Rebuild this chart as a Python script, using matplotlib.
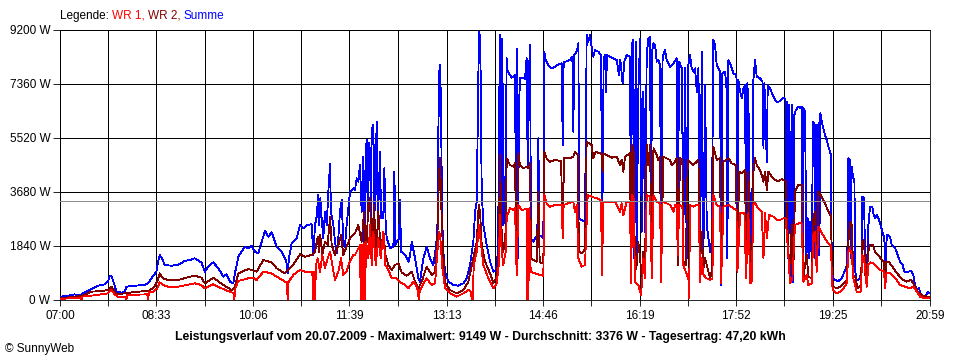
import matplotlib
matplotlib.use("Agg")
import matplotlib.pyplot as plt

plt.rcParams['font.family'] = ['Liberation Sans', 'DejaVu Sans']

# ---------------- data ----------------
tick_labels = ['07:00', '08:33', '10:06', '11:39', '13:13', '14:46', '16:19', '17:52', '19:25', '20:59']
y_ticks = [0, 1840, 3680, 5520, 7360, 9200]
average_w = 3376
legend_parts = [('Legende: ', '#000000'), ('WR 1, ', '#ff0000'), ('WR 2, ', '#800000'), ('Summe', '#0000ff')]
title = "Leistungsverlauf vom 20.07.2009 - Maximalwert: 9149 W - Durchschnitt: 3376 W - Tagesertrag: 47,20 kWh"
copyright_text = "\u00a9 SunnyWeb"

# Summe (minutes after 07:00, W)
sum_t = [1.3, 7.7, 14.1, 19, 22.2, 30.2, 36.6, 43.1, 46.3, 47.9, 49.5, 52.1, 54.3, 59.2, 62.4, 64, 72, 81.7, 84.9, 88.1,
         92.9, 94.5, 96.1, 98.4, 101, 107.4, 113.8, 120.2, 125.1, 129.9, 136.3, 139.8, 143, 147.8, 152.7, 157.5, 160.7,
         163.9, 167.1, 168.7, 172, 175.2, 178.4, 181.6, 184.8, 188, 191.2, 194.5, 197.7, 200.9, 204.1, 209, 213.8, 217,
         218.6, 219.5, 220.8, 223.4, 228.2, 231.4, 234.6, 237.9, 242.7, 244.3, 245.9, 247.5, 249.1, 250.1, 251, 252.3,
         253.9, 255.5, 257.2, 258.8, 260.4, 261.3, 263.6, 265.2, 266.8, 268.4, 270, 271.6, 273.2, 274.8, 276.4, 278,
         279.7, 282.9, 284.5, 286.1, 287.7, 289.3, 290.9, 292.6, 293.5, 294.8, 295.8, 296.7, 298, 299, 299.9, 300.6,
         301.5, 302.2, 303.2, 304.5, 305.4, 306.4, 307.7, 308.6, 309.6, 310.9, 311.9, 312.8, 314.1, 315.1, 318.3, 321.5,
         322.5, 323.4, 324.7, 327, 327.9, 328.9, 332.8, 336, 337.6, 339.2, 342.4, 345.6, 347.2, 350.4, 353.6, 356.9,
         360.1, 362.6, 363.9, 364.9, 365.9, 366.5, 367.5, 368.4, 369.7, 371.3, 374.5, 379.4, 384.2, 389, 392.2, 395.4,
         398.6, 400.3, 401.9, 402.8, 403.5, 404.4, 405.4, 406, 406.7, 408.3, 411.5, 414.7, 417.9, 420.5, 421.8, 422.7,
         423.7, 424.3, 425.3, 425.9, 426.6, 427.5, 429.1, 430.1, 430.8, 431.7, 434, 435.6, 438.8, 439.8, 440.7, 441.7,
         442.6, 443.6, 446.8, 448.4, 450, 451, 452, 453.3, 454.2, 456.5, 458.1, 460.3, 461.3, 462.3, 466.1, 467.1,
         468.4, 470.9, 474.2, 477.4, 480.6, 483.8, 484.8, 485.7, 491.8, 494.1, 495, 496, 498.3, 499.9, 500.8, 503.1,
         505.7, 507, 507.9, 509.5, 511.1, 512.7, 514.3, 516, 519.2, 521.7, 523, 524.3, 525.6, 526.6, 527.5, 530.4,
         533.6, 536.8, 539.1, 540.4, 542.6, 544.2, 546.5, 549.7, 550.7, 551.6, 552.9, 553.9, 555.2, 556.1, 557.7,
         559.4, 561, 562.6, 564.2, 565.8, 567.4, 569, 570, 571, 572.3, 573.9, 575.5, 577.1, 578.7, 579.7, 581, 581.9,
         583.5, 585.1, 588.3, 591.6, 594.8, 595.7, 597, 599.6, 601.2, 602.8, 604.4, 606, 607.6, 609.2, 610.8, 612.4,
         614.1, 615.7, 617.3, 618.9, 620.5, 622.1, 623.7, 625.3, 626.9, 628.5, 630.1, 631.7, 633.3, 636.6, 637.5,
         638.8, 641.4, 643, 643.6, 644.6, 646.2, 649.4, 652.3, 653.3, 654.2, 655.9, 657.5, 659.1, 660.7, 661.6, 662.9,
         664.5, 665.5, 667.1, 668.7, 670.3, 671.9, 675.1, 677.4, 678.4, 679.3, 681.6, 682.5, 684.8, 688, 691.2, 694.4,
         697.6, 699.6, 700.2, 700.8, 701.8, 702.7, 703.7, 704.7, 705.6, 706.9, 708.2, 709.5, 710.8, 712.1, 713.7,
         715.3, 716.2, 717.2, 718.5, 719.8, 721.1, 722.3, 723.6, 724.9, 726.2, 727.5, 728.5, 729.4, 730.4, 731.4,
         732.3, 733.3, 734.6, 736.2, 737.8, 739.4, 741, 742.6, 743.6, 744.2, 745.2, 747.4, 750.6, 753.9, 757.1, 759,
         759.6, 760.3, 761.6, 762.5, 763.5, 764.8, 766.1, 767, 768.3, 771.5, 773.1, 773.8, 775.4, 776.4, 778, 779.6,
         781.2, 783.4, 784.7, 786, 787.6, 789.9, 791.8, 793.7, 795, 795.7, 796.6, 797.9, 800.5, 802.1, 805.3, 807.9,
         810.1, 812.4, 814.3, 817.5, 820.7, 823, 824.6, 826.8, 828.4, 830.1, 832.6, 834.9, 836.8, 838.7]
sum_w = [114, 148, 193, 148, 227, 370, 488, 534, 625, 795, 829, 568, 284, 250, 284, 454, 488, 511, 568, 738,
         965, 1283, 1533, 1420, 1192, 1170, 1192, 1329, 1363, 1420, 1283, 965, 1136, 1283, 1079, 795, 875,
         625, 568, 908, 1476, 1647, 1817, 1760, 1850, 1647, 1590, 1987, 2351, 2158, 2305, 1817, 1647, 1420,
         1249, 908, 1420, 1931, 2101, 2555, 2442, 2555, 2580, 1533, 2555, 2839, 3577, 2555, 3464, 2782,
         2101, 3010, 2555, 3691, 4622, 3010, 2555, 1987, 1590, 2101, 3010, 3407, 1987, 1817, 2555, 3123,
         3691, 3804, 3748, 4145, 4032, 4599, 3010, 4884, 1987, 5054, 5451, 3010, 5338, 5054, 2555, 5849,
         5508, 5962, 2782, 4827, 6076, 2555, 3918, 5054, 2782, 3010, 2782, 4486, 2555, 2101, 1760, 1817,
         4372, 1874, 1987, 2101, 3407, 1647, 1533, 1306, 1533, 1987, 1420, 738, 625, 1420, 1817, 1420,
         1192, 1817, 2328, 5849, 7836, 8006, 6530, 2896, 1647, 965, 625, 511, 488, 568, 738, 1192,
         1987, 3010, 3350, 5962, 7779, 9149, 8744, 5962, 3691, 2555, 1874, 1306, 965, 1022, 1420, 2782,
         7098, 9029, 7098, 3010, 8915, 2555, 2782, 5962, 8234, 7779, 7666, 7575, 7666, 2669, 8574, 1420,
         6530, 7552, 7575, 7530, 8234, 4599, 7552, 8688, 2101, 1987, 2101, 2214, 5508, 2214, 2101, 8461,
         8177, 8006, 7893, 7950, 8030, 8063, 5281, 8097, 8177, 8290, 5735, 8347, 8461, 8744, 2782, 2726,
         2669, 4827, 9029, 8801, 9029, 8631, 8290, 8518, 8461, 8347, 2555, 8234, 8347, 7098, 8347, 8290,
         8234, 8177, 7666, 8177, 7382, 8120, 8347, 8290, 1420, 8744, 8858, 1420, 8801, 1420, 7098,
         8915, 2328, 7098, 2328, 8347, 8915, 8972, 2328, 8461, 8744, 8688, 8120, 8177, 8006, 1533, 8120, 8347,
         8518, 8177, 7950, 8063, 8234, 1420, 8120, 7893, 2328, 7893, 1420, 8006, 8347, 7893, 7779, 7893,
         7098, 7893, 1533, 8461, 1533, 7325, 2555, 2101, 1647, 1987, 8858, 8688, 8006, 7779, 511,
         7722, 7779, 7098, 1420, 8177, 8063, 7722, 7666, 1533, 7495, 7098, 6870, 7211, 7325, 1192, 7382,
         5962, 1533, 1306, 7495, 8177, 7609, 7552, 7438, 5167, 7382, 4713, 7325, 7211, 6927, 6734, 6780,
         6893, 6850, 2555, 6757, 1420, 6643, 5622, 738, 6643, 625, 6303, 6473, 6530, 6586, 6530,
         6586, 1420, 6530, 6416, 1420, 2782, 1420, 2669, 1420, 6076, 5962, 1420, 5962, 1647, 6019,
         1533, 6360, 6076, 5849, 5622, 5451, 5224, 5054, 4940, 1306, 738, 681, 647, 738, 1022, 1192,
         2214, 4827, 4770, 1420, 4543, 4202, 4032, 965, 681, 715, 1192, 3521, 3464, 1420, 852, 2555,
         3180, 3180, 2896, 2782, 2896, 2726, 2498, 2237, 2101, 511, 1874, 2214, 2158, 1874, 1783, 1533,
         1306, 1215, 965, 965, 987, 852, 511, 341, 397, 170, 114, 148, 284, 227]

# WR 2
wr2_t = [1.3, 14.1, 23.8, 30.2, 39.9, 46.3, 49.5, 52.7, 55.3, 62.4, 75.2, 84.9, 89.7, 93.9, 96.1, 99.3, 104.2, 113.8,
         121.8, 129.9, 136.3, 139.8, 147.8, 157.5, 165.5, 168.7, 172, 181.6, 189.6, 196.1, 204.1, 209, 217, 221.8,
         226.6, 231.4, 236.3, 242.7, 245.9, 248.5, 249.8, 251, 253, 255.5, 258.1, 260.4, 262, 265.2, 268.4, 271,
         273.2, 276.4, 279.7, 282.9, 284.5, 287.7, 290.9, 293.2, 295.1, 297.4, 299, 300.6, 302.8, 304.8, 307, 309.3,
         311.9, 313.8, 316.7, 319.9, 323.1, 326.3, 329.5, 334.4, 339.2, 342.4, 345.6, 348.8, 353.6, 358.5, 361.7,
         363.9, 365.5, 366.5, 367.8, 369.1, 371.3, 376.1, 382.6, 389, 393.8, 398.6, 401.9, 403.8, 405.1, 406.7,
         409.9, 414.7, 417.9, 421.1, 423.1, 424.3, 425.9, 427.5, 429.8, 430.8, 434, 437.2, 438.8, 440.1, 442,
         443.6, 446.8, 450, 451.7, 453.3, 454.2, 456.5, 459.7, 461.3, 462.6, 466.1, 467.1, 469.3, 472.5, 477.4,
         483.2, 484.8, 486.1, 491.8, 495, 496.7, 499.2, 500.5, 503.7, 506.3, 507.9, 510.2, 512.7, 514.3, 516.6,
         520.8, 522.4, 523.3, 524.3, 527.2, 532, 536.8, 540.1, 541.7, 543.3, 544.9, 549.7, 550.7, 552, 553.2,
         554.5, 556.1, 557.7, 559.4, 561, 562.6, 564.2, 565.8, 567.4, 569, 570.7, 572.3, 575.5, 577.1, 578.7,
         579.7, 581.9, 585.1, 588.3, 589.9, 593.2, 594.8, 595.7, 598, 600.2, 601.2, 603.4, 605.4, 607.6, 610.8,
         614.1, 615.7, 617.3, 618.9, 620.5, 622.1, 623.7, 626.9, 628.5, 630.1, 633.3, 636.6, 637.5, 639.8, 644.6,
         647.8, 651.7, 653.3, 654.9, 657.5, 660.7, 661.6, 663.9, 665.5, 667.1, 668.7, 670.3, 671.9, 675.8, 678.4,
         680, 681.6, 683.2, 686.4, 689.6, 692.8, 696.1, 699.9, 702.5, 704, 705.6, 707.2, 708.8, 712.1, 715.3,
         716.9, 718.5, 720.1, 721.7, 724.9, 726.5, 728.1, 729.7, 731.4, 734.6, 737.8, 741, 743.6, 744.5, 745.8,
         749, 752.2, 755.5, 758.7, 760.3, 761.9, 763.5, 765.1, 767.4, 769, 772.2, 773.8, 775.4, 777, 779.6,
         781.2, 783.8, 786, 789.2, 792.4, 794.7, 795.7, 796.9, 799.5, 802.7, 805.9, 809.2, 811.7, 816.5, 820.7,
         823.9, 827.2, 831, 835.8, 839]
wr2_w = [57, 114, 170, 284, 307, 341, 454, 284, 193, 227, 284, 307, 397, 625, 908, 738, 681, 681,
         761, 829, 761, 568, 761, 511, 341, 454, 908, 1056, 965, 1363, 1283, 1079, 908, 1079,
         1283, 1556, 1476, 1533, 1647, 2158, 1647, 2214, 1533, 1987, 1874, 2816, 1874, 1533, 1874, 2214,
         1533, 1817, 2101, 2237, 2271, 2555, 1987, 3010, 1533, 3237, 3464, 1420, 3237, 1533, 3010, 1647,
         2328, 1533, 1192, 1022, 1192, 1249, 940, 829, 965, 625, 397, 625, 1136, 852, 965,
         2101, 4259, 4827, 3123, 1874, 568, 341, 227, 341, 625, 1420, 1987, 3237, 3010, 1874,
         1306, 908, 568, 795, 1647, 4940, 2328, 1647, 2328, 4827, 4599, 4543, 4656, 1533, 4997,
         4599, 4486, 4543, 4486, 4656, 1420, 1363, 1306, 3691, 1283, 1249, 5054, 4827, 4713, 4770,
         4736, 2442, 4827, 4827, 4884, 5054, 4940, 1647, 1590, 1760, 5394, 5338, 5281, 4827, 5054,
         4997, 4940, 4372, 4997, 4940, 4850, 4884, 4599, 4770, 4372, 4884, 4997, 965, 5281, 5054,
         965, 1192, 1987, 1420, 738, 1647, 1192, 5281, 4599, 5281, 1192, 5167, 4940, 4770, 4884,
         965, 4884, 4827, 4770, 4599, 4713, 4827, 1192, 4827, 4770, 1306, 1192, 4770, 4713, 4599,
         4713, 4770, 1306, 2328, 1079, 1420, 1192, 738, 965, 5224, 4770, 4827, 568, 4713, 4827,
         4656, 4599, 1192, 4372, 4316, 4429, 965, 4372, 852, 738, 4372, 4827, 4599, 4372, 4032,
         4372, 3748, 4372, 4202, 4088, 4054, 4122, 4032, 1647, 568, 2555, 965, 3691, 3918, 3918,
         738, 1192, 1533, 795, 738, 2782, 3010, 1192, 3691, 3521, 3294, 3010, 2839, 738, 454,
         397, 454, 568, 681, 1987, 2669, 2555, 852, 738, 397, 511, 1987, 2044, 568, 1647,
         1874, 1874, 1647, 1533, 1363, 1306, 511, 1306, 1283, 1136, 965, 829, 715, 625, 681,
         511, 284, 170, 114, 114]

# WR 1
wr1_t = [1.3, 14.1, 19.9, 20.6, 21.5, 30.2, 39.9, 46.3, 49.5, 52.7, 55.9, 63.3, 64, 64.9, 84.2, 84.9, 85.8, 89.7,
         93.9, 96.1, 99.3, 104.2, 113.8, 121.8, 129.9, 136.3, 139.8, 147.8, 157.5, 165.5, 167.5, 168.1, 169.1, 172,
         181.6, 186.4, 189.6, 196.1, 204.1, 209, 217, 218.9, 219.5, 220.5, 225, 231.4, 236.3, 243.3, 244.3, 245.3,
         245.9, 246.9, 248.5, 250.7, 253, 255.5, 258.1, 260.4, 262.6, 265.2, 268.4, 271, 273.2, 276.4, 278.7,
         282.9, 284.5, 287.7, 289.3, 290, 290.9, 291.9, 292.9, 294.2, 295.1, 297.4, 299, 300.6, 302.2, 304.5, 307,
         309.3, 311.9, 313.8, 316.7, 319.9, 324.7, 327.9, 332.8, 336, 340.8, 344, 345.3, 345.9, 346.9, 350.4,
         353.6, 358.5, 361.7, 363.9, 365.9, 367.1, 368.4, 371.3, 376.1, 382.6, 389, 393.8, 396.4, 397, 398, 399,
         401.9, 404.1, 405.7, 408.3, 413.1, 417.9, 421.1, 423.1, 424.3, 425.9, 427.5, 429.8, 430.8, 434, 437.2,
         438.8, 440.4, 442, 445.2, 450, 450.7, 451.7, 452.6, 453.9, 458.1, 462.9, 466.1, 467.1, 469.3, 472.5,
         477.4, 483.8, 484.8, 485.7, 490.2, 495, 496.7, 498.3, 499.9, 503.1, 506.3, 508.9, 512.7, 517.6, 521.7,
         522.7, 524, 530.4, 535.2, 540.1, 541.7, 543.3, 546.5, 549.7, 550.7, 552, 553.2, 554.5, 557.7, 560.3,
         561.6, 562.6, 564.2, 565.8, 569, 570.7, 572.3, 575.5, 578.7, 579.7, 581, 585.1, 588.3, 591.6, 593.2,
         594.8, 595.7, 597.3, 600.2, 601.2, 603.4, 606, 606.7, 607.6, 610.8, 614.1, 616, 617.3, 618.9, 620.5,
         623.7, 626.9, 629.2, 630.1, 633.3, 636.6, 637.5, 639.8, 644.6, 649.4, 652.3, 653.3, 655.9, 660, 661.6,
         663.9, 665.5, 667.1, 668.7, 670.3, 673.5, 676.7, 678.4, 680, 681.6, 683.8, 688, 691.2, 694.4, 697.6,
         699.9, 702.5, 704, 706.3, 708.8, 712.1, 715.3, 716.9, 720.1, 721.7, 724.9, 726.5, 728.1, 729.7, 731.4,
         734.6, 737.8, 741, 743.6, 744.5, 745.8, 749, 752.2, 755.5, 758.7, 760.3, 761.9, 763.5, 765.1, 768.3,
         772.2, 773.8, 775.4, 778, 779.6, 781.2, 784.4, 787.6, 790.8, 794.7, 795.7, 796.9, 800.5, 803.7, 806.9,
         810.1, 815, 819.8, 823, 826.2, 829.4, 834.2, 839]
wr1_w = [34, 79, 79, 0, 114, 148, 193, 227, 341, 193, 114, 114, 0, 170, 193, 0, 261, 284,
         397, 602, 511, 454, 454, 511, 568, 511, 397, 534, 370, 261, 227, 0, 397, 647,
         738, 761, 681, 965, 908, 795, 625, 625, 0, 625, 852, 1022, 965, 965, 0, 965,
         0, 1192, 1420, 965, 1533, 1079, 1420, 1647, 1192, 681, 965, 1420, 852, 965, 1249,
         1533, 1533, 1760, 1874, 0, 1874, 0, 1931, 0, 1987, 1420, 2555, 1192, 2328, 1192, 2101,
         1420, 2328, 1192, 1022, 738, 738, 602, 511, 397, 625, 454, 284, 0, 284, 568,
         738, 511, 568, 1647, 2328, 1987, 1192, 397, 227, 114, 227, 341, 284, 0, 0, 1192,
         1647, 2555, 1987, 1192, 738, 397, 568, 1192, 2896, 1647, 1192, 1647, 2839, 3123, 3066,
         3123, 852, 3237, 3066, 3100, 0, 0, 3123, 965, 908, 852, 829, 3577, 3294, 3180,
         3237, 3237, 2101, 3237, 3294, 3350, 3010, 3237, 1420, 1136, 1192, 3577, 3521, 3464, 3407,
         852, 3350, 3350, 3350, 3010, 3294, 2896, 3350, 3350, 568, 3577, 3464, 625, 511, 170,
         738, 1420, 738, 3577, 3521, 738, 3577, 3350, 3294, 625, 3350, 3294, 3237, 3010, 3237,
         3237, 1533, 3237, 3180, 1192, 965, 738, 57, 3237, 3180, 3237, 3237, 625, 1420, 852,
         738, 681, 738, 3577, 3237, 3180, 568, 3180, 3237, 3123, 3066, 965, 2953, 2953, 738,
         2953, 568, 625, 3237, 3294, 3123, 3010, 1420, 2953, 2101, 2896, 2839, 2726, 2726, 2782,
         2782, 1420, 568, 738, 2555, 2612, 2612, 625, 852, 511, 568, 2214, 2328, 965, 2498,
         2271, 2101, 1931, 1817, 511, 341, 227, 284, 397, 568, 1647, 1760, 1533, 738, 284,
         284, 1533, 1420, 454, 1192, 1283, 1249, 1136, 1022, 965, 397, 908, 908, 795, 681,
         511, 454, 397, 454, 284, 114, 57, 57]


def to_minutes(s):
    h, m = s.split(':')
    return (int(h) - 7) * 60 + int(m)


# ---------------- figure ----------------
W, H = 960, 360
fig = plt.figure(figsize=(W / 100, H / 100), dpi=100)
ax = fig.add_axes([60 / W, 60 / H, 870 / W, 270 / H])

lw = 0.6
ax.plot(sum_t, sum_w, color='#0000ff', lw=lw, antialiased=False, zorder=3)
ax.plot(wr2_t, wr2_w, color='#800000', lw=lw, antialiased=False, zorder=4)
ax.plot(wr1_t, wr1_w, color='#ff0000', lw=lw, antialiased=False, zorder=5)
ax.axhline(average_w, color='#8c8c8c', lw=lw, antialiased=False, zorder=6)

major = [to_minutes(s) for s in tick_labels]
minor = [(a + b) / 2 for a, b in zip(major[:-1], major[1:])]
ax.set_xlim(major[0], major[-1])
ax.set_ylim(y_ticks[0], y_ticks[-1])
ax.set_xticks(major)
ax.set_xticklabels(tick_labels)
ax.set_xticks(minor, minor=True)
ax.set_yticks(y_ticks)
ax.set_yticklabels([f"{v} W" for v in y_ticks])
ax.grid(which='both', color='black', lw=lw, antialiased=False)
ax.set_axisbelow(True)
ax.tick_params(axis='x', which='both', direction='out', length=4.5, width=lw, pad=3, labelsize=8.5, colors='black')
ax.tick_params(axis='y', which='both', direction='out', length=5, width=lw, pad=2, labelsize=8.5, colors='black')
for sp in ax.spines.values():
    sp.set_linewidth(lw)
    sp.set_color('black')

# legend line (multicoloured) at top
fig.canvas.draw()
renderer = fig.canvas.get_renderer()
x = 60 / W
for txt, col in legend_parts:
    t = fig.text(x, 1 - 16 / H, txt, color=col, fontsize=8.5, va='center', ha='left')
    bb = t.get_window_extent(renderer=renderer)
    x += bb.width / W

fig.text(0.5, 1 - 337 / H, title, fontsize=8.8, fontweight='bold', ha='center', va='center')
fig.text(5 / W, 1 - 349 / H, copyright_text, fontsize=8.5, ha='left', va='center')

fig.savefig('out.png', dpi=100)
